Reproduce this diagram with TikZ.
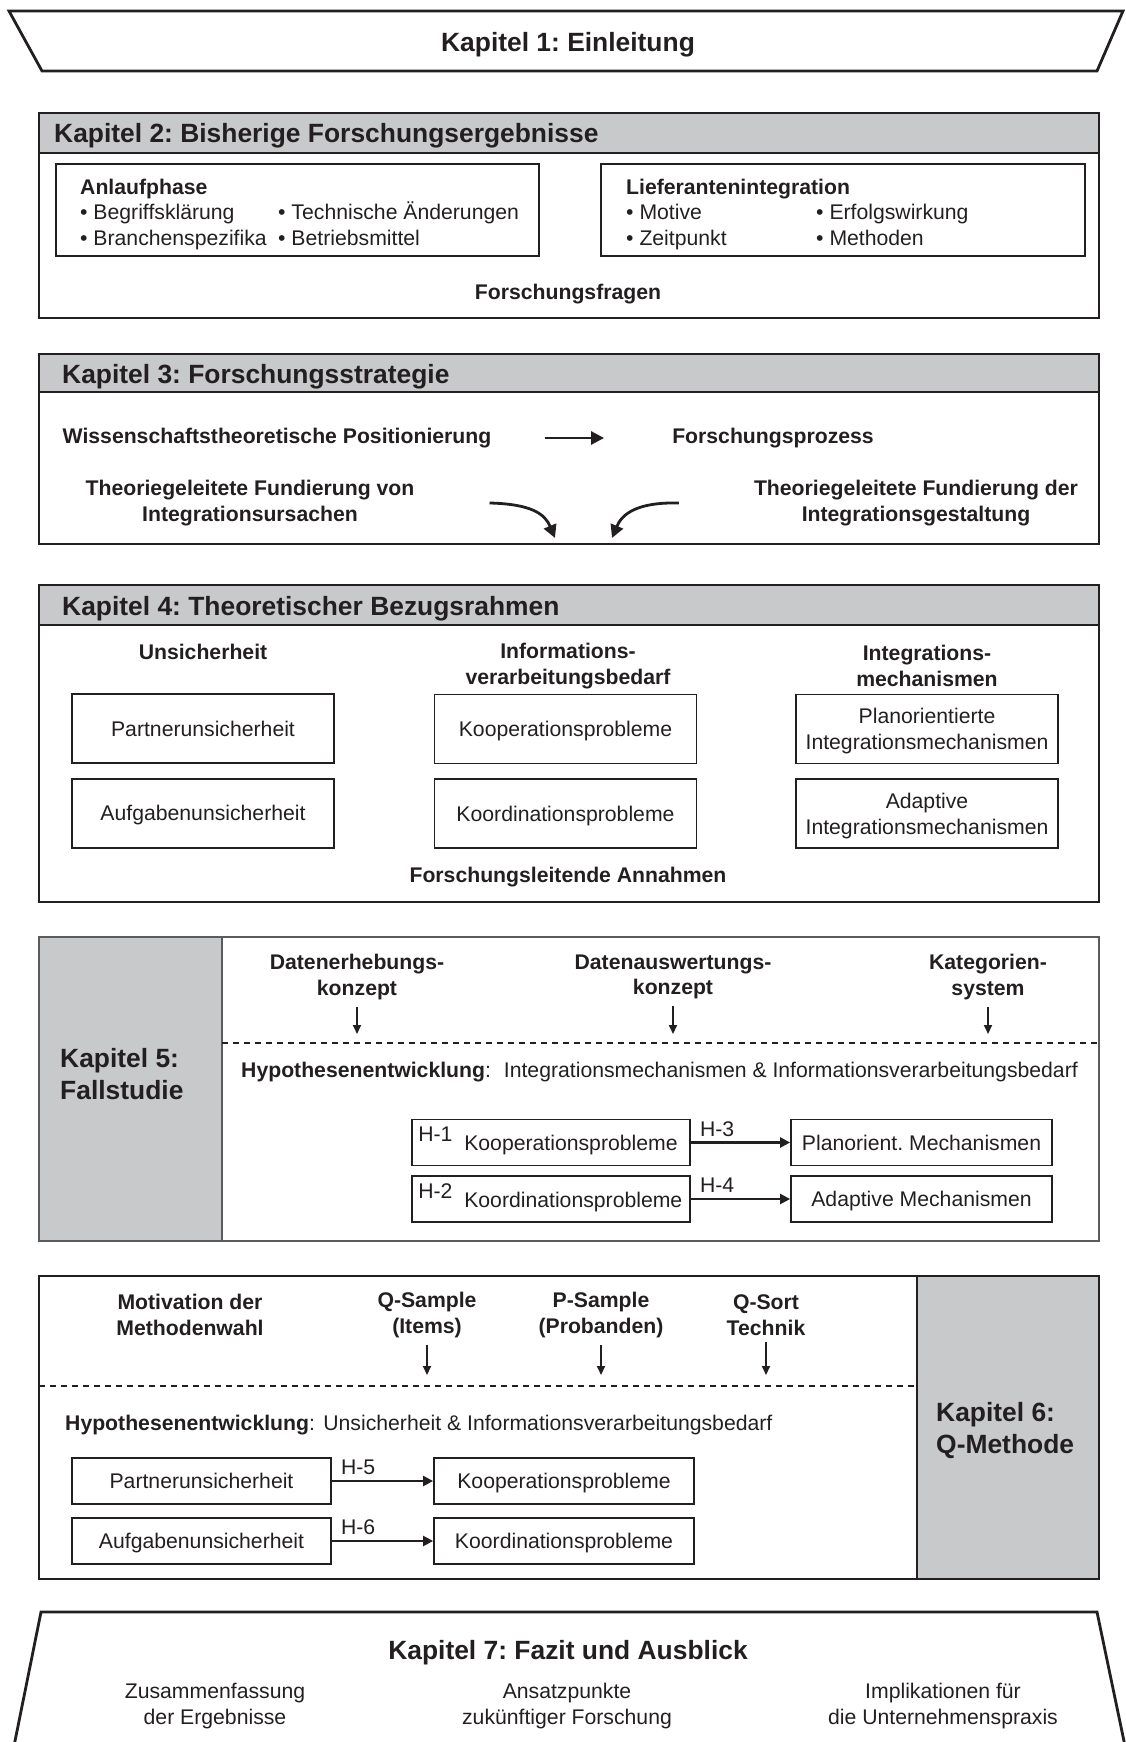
\documentclass[tikz,border=0pt]{standalone}
\usepackage{fontspec}
\setmainfont{Liberation Sans}
\usepackage{tikz}
\usetikzlibrary{arrows.meta,positioning}
\definecolor{kapgray}{HTML}{C8C9CB}
\definecolor{kapdark}{HTML}{5A5B5D}
\definecolor{kapblack}{HTML}{231F20}
\newcommand{\txtfont}{\fontsize{21.2pt}{25.5pt}\selectfont}
\newcommand{\kapfont}{\fontsize{26.4pt}{32pt}\selectfont\bfseries}
\frenchspacing

\begin{document}
\begin{tikzpicture}[x=1pt, y=-1pt,
    frame/.style={draw=kapblack, line width=2.8pt},
    head/.style={frame, fill=kapgray},
    kap/.style={inner sep=0pt, font=\kapfont, align=left, text=kapblack},
    txt/.style={inner sep=0pt, font=\txtfont, align=center, text=kapblack},
    btxt/.style={txt, font=\txtfont\bfseries},
    ibox/.style={draw=kapblack, line width=1.8pt, inner sep=0pt, text depth=0pt, font=\txtfont, align=center, text=kapblack},
    fbox/.style={ibox, minimum width=262pt, minimum height=69pt},
    hbox/.style={ibox, minimum height=46pt},
    hlab/.style={txt, pos=0, anchor=south west, xshift=8pt, yshift=5pt},
    harr/.style={-{Triangle[length=10pt,width=10pt]}, line width=2.3pt, draw=kapblack},
    darr/.style={-{Triangle[length=9pt,width=8pt]}, line width=1.8pt, draw=kapblack},
    carr/.style={-{Triangle[length=13pt,width=13pt]}, line width=2.8pt, draw=kapblack},
    trenn/.style={draw=kapblack, line width=1.4pt, dash pattern=on 6pt off 5pt}]
\useasboundingbox (0,0) rectangle (1125,1742);

\draw[frame] (9,11) -- (1123,11) -- (1097,71) -- (42,71) -- cycle;
\node[kap] (kap1) at (568,45) {Kapitel 1: Einleitung};

\draw[frame] (39,113) rectangle (1099,318);
\draw[head] (39,113) rectangle (1099,153);
\node[kap, anchor=west] (kap2) at (54,136) {Kapitel 2: Bisherige Forschungsergebnisse};
\node[ibox, minimum width=483pt, minimum height=92pt] (anlauf) at (297.5,210) {};
\node[ibox, minimum width=484pt, minimum height=92pt] (liefer) at (843,210) {};
\node[btxt, anchor=base west] (anlaufkopf) at (80,194.5) {Anlaufphase};
\node[btxt, anchor=base west] (lieferkopf) at (626,194.5) {Lieferantenintegration};
\foreach \x/\y/\t [count=\i] in {80/219/Begriffsklärung, 278/219/Technische Änderungen,
    80/245/Branchenspezifika, 278/245/Betriebsmittel, 626/219/Motive,
    816/219/Erfolgswirkung, 626/245/Zeitpunkt, 816/245/Methoden} {
  \node[txt, anchor=base west] (punkt\i) at (\x,\y) {• \t};
}
\node[btxt] (fragen) at (568,294) {Forschungsfragen};

\draw[frame] (39,354) rectangle (1099,544);
\draw[head] (39,354) rectangle (1099,392);
\node[kap, anchor=west] (kap3) at (62,377) {Kapitel 3: Forschungsstrategie};
\node[btxt] (wiss) at (277,438) {Wissenschaftstheoretische Positionierung};
\node[btxt] (prozess) at (773,438) {Forschungsprozess};
\draw[carr, shorten <=53pt, shorten >=68pt] (wiss.east) -- (prozess.west);
\node[btxt] (ursachen) at (250,503) {Theoriegeleitete Fundierung von\\Integrationsursachen};
\node[btxt] (gestaltung) at (916,503) {Theoriegeleitete Fundierung der\\Integrationsgestaltung};
\coordinate (mitteL) at (555,538);
\coordinate (mitteR) at (612,538);
\draw[carr] ([xshift=75pt]ursachen.east) .. controls +(42,1) and +(-10,-24) .. (mitteL);
\draw[carr] ([xshift=-75pt]gestaltung.west) .. controls +(-42,-1) and +(10,-24) .. (mitteR);

\draw[frame] (39,585) rectangle (1099,902);
\draw[head] (39,585) rectangle (1099,625);
\node[kap, anchor=west] (kap4) at (62,609) {Kapitel 4: Theoretischer Bezugsrahmen};
\node[btxt] (unsich) at (203,652) {Unsicherheit};
\node[btxt] (ivb) at (568,666) {Informations-\\verarbeitungsbedarf};
\node[btxt] (imech) at (927,666) {Integrations-\\mechanismen};
\node[fbox] (partner) at (203,728.5) {Partnerunsicherheit};
\node[fbox, below=14pt of partner] (aufgabe) {Aufgabenunsicherheit};
\node[fbox] (koop) at (565.5,729) {Kooperationsprobleme};
\node[fbox, below=14pt of koop] (koord) {Koordinationsprobleme};
\node[fbox] (plan) at (927,729) {Planorientierte\\Integrationsmechanismen};
\node[fbox, below=14pt of plan] (adapt) {Adaptive\\Integrationsmechanismen};
\node[btxt] (annahmen) at (568,877) {Forschungsleitende Annahmen};

\draw[frame, draw=kapdark, fill=kapgray] (39,937) rectangle (222,1241);
\draw[frame, draw=kapdark] (39,937) rectangle (1099,1241);
\draw[trenn] (222,1043) -- (1099,1043);
\node[kap, anchor=west] (kap5) at (60,1074) {Kapitel 5:\\Fallstudie};
\foreach \x/\t [count=\i] in {357/{Datenerhebungs-\\konzept}, 673/{Datenauswertungs-\\konzept}, 988/{Kategorien-\\system}} {
  \node[btxt] (quelle\i) at (\x,977) {\t};
  \coordinate (ziel\i) at (\x,1034);
  \draw[darr, shorten <=7pt] (quelle\i.south) -- (ziel\i);
}
\node[txt, anchor=west] (hyp5) at (241,1072) {\textbf{Hypothesenentwicklung}:\hspace{13pt}Integrationsmechanismen \& Informationsverarbeitungsbedarf};
\node[hbox, minimum width=278pt] (koop5) at (551,1142.5) {};
\node[hbox, minimum width=261pt] (plan5) at (921.5,1142.5) {Planorient. Mechanismen};
\node[hbox, minimum width=278pt] (koord5) at (551,1199) {};
\node[hbox, minimum width=261pt] (adapt5) at (921.5,1199) {Adaptive Mechanismen};
\node[txt, anchor=west] (koop5txt) at ([xshift=53pt,yshift=-3pt]koop5.west) {Kooperationsprobleme};
\node[txt, anchor=west] (koord5txt) at ([xshift=53pt,yshift=-3pt]koord5.west) {Koordinationsprobleme};
\node[txt, anchor=north west] (h1) at ([xshift=7pt,yshift=-8pt]koop5.north west) {H-1};
\node[txt, anchor=north west] (h2) at ([xshift=7pt,yshift=-8pt]koord5.north west) {H-2};
\draw[harr] (koop5) -- node[hlab] (h3) {H-3} (plan5);
\draw[harr] (koord5) -- node[hlab] (h4) {H-4} (adapt5);

\draw[frame, fill=kapgray] (917,1276) rectangle (1099,1579);
\draw[frame] (39,1276) rectangle (1099,1579);
\draw[trenn] (39,1386) -- (917,1386);
\node[kap, anchor=west] (kap6) at (936,1431) {Kapitel 6:\\Q-Methode};
\node[btxt] (motiv) at (190,1315) {Motivation der\\Methodenwahl};
\foreach \x/\t [count=\i] in {427/{Q-Sample\\(Items)}, 601/{P-Sample\\(Probanden)}, 766/{Q-Sort\\Technik}} {
  \node[btxt] (sample\i) at (\x,1315) {\t};
  \coordinate (pfeil\i) at (\x,1375);
  \draw[darr, shorten <=7pt] (sample\i.south) -- (pfeil\i);
}
\node[txt, anchor=west] (hyp6) at (65,1425) {\textbf{Hypothesenentwicklung}:\hspace{8.5pt}Unsicherheit \& Informationsverarbeitungsbedarf};
\node[hbox, minimum width=259pt] (partner6) at (201.5,1481) {Partnerunsicherheit};
\node[hbox, minimum width=260pt] (koop6) at (564,1481) {Kooperationsprobleme};
\node[hbox, minimum width=259pt] (aufgabe6) at (201.5,1541) {Aufgabenunsicherheit};
\node[hbox, minimum width=260pt] (koord6) at (564,1541) {Koordinationsprobleme};
\draw[harr] (partner6) -- node[hlab] (h5) {H-5} (koop6);
\draw[harr] (aufgabe6) -- node[hlab] (h6) {H-6} (koord6);

\draw[frame] (14,1746) -- (41,1612) -- (1097,1612) -- (1125,1746);
\node[kap] (kap7) at (568,1653) {Kapitel 7: Fazit und Ausblick};
\node[txt] (zusammen) at (215,1706) {Zusammenfassung\\der Ergebnisse};
\node[txt] (ansatz) at (567,1706) {Ansatzpunkte\\zukünftiger Forschung};
\node[txt] (implik) at (943,1706) {Implikationen für\\die Unternehmenspraxis};
\end{tikzpicture}
\end{document}
